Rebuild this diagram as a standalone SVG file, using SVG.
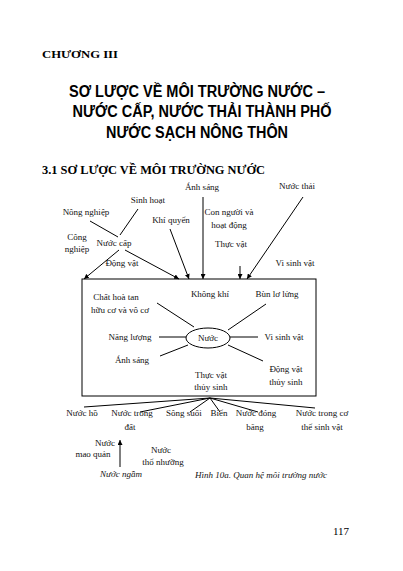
<svg xmlns="http://www.w3.org/2000/svg" width="403" height="571" viewBox="0 0 403 571">
<defs>
<marker id="ah" viewBox="0 0 10 10" refX="10" refY="5" markerWidth="5" markerHeight="5" orient="auto" markerUnits="userSpaceOnUse">
<path d="M0,0 L10,5 L0,10 z" fill="#000"/>
</marker>
</defs>
<style>
.t{font-family:"Liberation Serif","Times New Roman",serif;font-size:9px;fill:#111;text-anchor:middle}
.ti{font-family:"Liberation Sans",Arial,sans-serif;font-weight:bold;font-size:16px;fill:#000;text-anchor:middle}
.h{font-family:"Liberation Serif","Times New Roman",serif;fill:#000}
.l{stroke:#000;stroke-width:1;fill:none}
.a{stroke:#000;stroke-width:1;fill:none;marker-end:url(#ah)}
</style>
<rect width="403" height="571" fill="#fff"/>
<g id="header">
<text class="h" x="42" y="58" font-size="11" font-weight="bold" textLength="76" lengthAdjust="spacingAndGlyphs">CHƯƠNG III</text>
<text class="ti" x="197" y="97" textLength="256" lengthAdjust="spacingAndGlyphs">SƠ LƯỢC VỀ MÔI TRƯỜNG NƯỚC –</text>
<text class="ti" x="202" y="117" textLength="259" lengthAdjust="spacingAndGlyphs">NƯỚC CẤP, NƯỚC THẢI THÀNH PHỐ</text>
<text class="ti" x="197" y="138" textLength="182" lengthAdjust="spacingAndGlyphs">NƯỚC SẠCH NÔNG THÔN</text>
<text class="h" x="42" y="174" font-size="12" font-weight="bold" textLength="223" lengthAdjust="spacingAndGlyphs">3.1 SƠ LƯỢC VỀ MÔI TRƯỜNG NƯỚC</text>
</g>
<g id="connectors">
<line class="a" x1="203" y1="197" x2="203" y2="279"/>
<line class="a" x1="303" y1="197" x2="247" y2="279"/>
<line class="a" x1="240" y1="266" x2="240" y2="279"/>
<line class="a" x1="170" y1="229" x2="189" y2="279"/>
<line class="a" x1="119" y1="250" x2="84" y2="279"/>
<line class="a" x1="125" y1="250" x2="179" y2="279"/>
<line class="l" x1="90" y1="221" x2="118" y2="237"/>
<line class="l" x1="138" y1="209" x2="120" y2="235"/>
<line class="l" x1="157" y1="303" x2="194" y2="327"/>
<line class="l" x1="159" y1="337" x2="186" y2="337"/>
<line class="l" x1="160" y1="356" x2="188" y2="345"/>
<line class="l" x1="228" y1="330" x2="266" y2="304"/>
<line class="l" x1="230" y1="337" x2="258" y2="337"/>
<line class="l" x1="228" y1="345" x2="263" y2="361"/>
<line class="l" x1="210" y1="398" x2="84" y2="407"/>
<line class="l" x1="210" y1="398" x2="140" y2="412"/>
<line class="l" x1="210" y1="398" x2="190" y2="412"/>
<line class="l" x1="210" y1="398" x2="220" y2="412"/>
<line class="l" x1="210" y1="398" x2="258" y2="412"/>
<line class="l" x1="210" y1="398" x2="315" y2="408"/>
<line class="a" x1="120" y1="467" x2="120" y2="440"/>
</g>
<g id="box"><rect class="l" x="82" y="279" width="234" height="117"/></g>
<g id="nuoc"><ellipse class="l" cx="208" cy="338" rx="22" ry="10"/><text class="t" x="208" y="341">Nước</text></g>
<g id="anh-sang-top"><text class="t" x="202" y="190">Ánh sáng</text></g>
<g id="nuoc-thai"><text class="t" x="297" y="189">Nước thải</text></g>
<g id="con-nguoi"><text class="t" x="229" y="215">Con người và</text><text class="t" x="229" y="228">hoạt động</text></g>
<g id="thuc-vat-top"><text class="t" x="231" y="247">Thực vật</text></g>
<g id="vi-sinh-top"><text class="t" x="295" y="266">Vi sinh vật</text></g>
<g id="khi-quyen"><text class="t" x="171" y="223">Khí quyển</text></g>
<g id="sinh-hoat"><text class="t" x="148" y="203">Sinh hoạt</text></g>
<g id="nong-nghiep"><text class="t" x="86" y="215">Nông nghiệp</text></g>
<g id="cong-nghiep"><text class="t" x="77" y="240">Công</text><text class="t" x="77" y="252">nghiệp</text></g>
<g id="nuoc-cap"><text class="t" x="114" y="246">Nước cấp</text></g>
<g id="dong-vat-top"><text class="t" x="122" y="266">Động vật</text></g>
<g id="chat-hoa-tan"><text class="t" x="116" y="300">Chất hoà tan</text><text class="t" x="120" y="313">hữu cơ và vô cơ</text></g>
<g id="khong-khi"><text class="t" x="210" y="297">Không khí</text></g>
<g id="bun"><text class="t" x="277" y="297">Bùn lơ lửng</text></g>
<g id="nang-luong"><text class="t" x="130" y="340">Năng lượng</text></g>
<g id="vi-sinh"><text class="t" x="284" y="340">Vi sinh vật</text></g>
<g id="anh-sang"><text class="t" x="132" y="363">Ánh sáng</text></g>
<g id="dong-vat"><text class="t" x="286" y="372">Động vật</text><text class="t" x="286" y="385">thủy sinh</text></g>
<g id="thuc-vat"><text class="t" x="211" y="378">Thực vật</text><text class="t" x="211" y="390">thủy sinh</text></g>
<g id="nuoc-ho"><text class="t" x="82" y="416">Nước hồ</text></g>
<g id="nuoc-trong-dat"><text class="t" x="132" y="416">Nước trong</text><text class="t" x="130" y="430">đất</text></g>
<g id="song-suoi"><text class="t" x="184" y="416">Sông suối</text></g>
<g id="bien"><text class="t" x="219" y="416">Biển</text></g>
<g id="nuoc-dong-bang"><text class="t" x="256" y="416">Nước đóng</text><text class="t" x="255" y="430">băng</text></g>
<g id="nuoc-co-the"><text class="t" x="322" y="416">Nước trong cơ</text><text class="t" x="322" y="430">thể sinh vật</text></g>
<g id="mao-quan"><text class="t" x="105" y="446">Nước</text><text class="t" x="93" y="457">mao quản</text></g>
<g id="tho-nhuong"><text class="t" x="161" y="453">Nước</text><text class="t" x="163" y="465">thổ nhưỡng</text></g>
<g id="nuoc-ngam"><text class="t" x="121" y="477" font-style="italic">Nước ngầm</text></g>
<text class="t" x="261" y="478" font-style="italic">Hình 10a. Quan hệ môi trường nước</text>
<text class="h" x="341" y="535" font-size="11" text-anchor="middle">117</text>
</svg>
